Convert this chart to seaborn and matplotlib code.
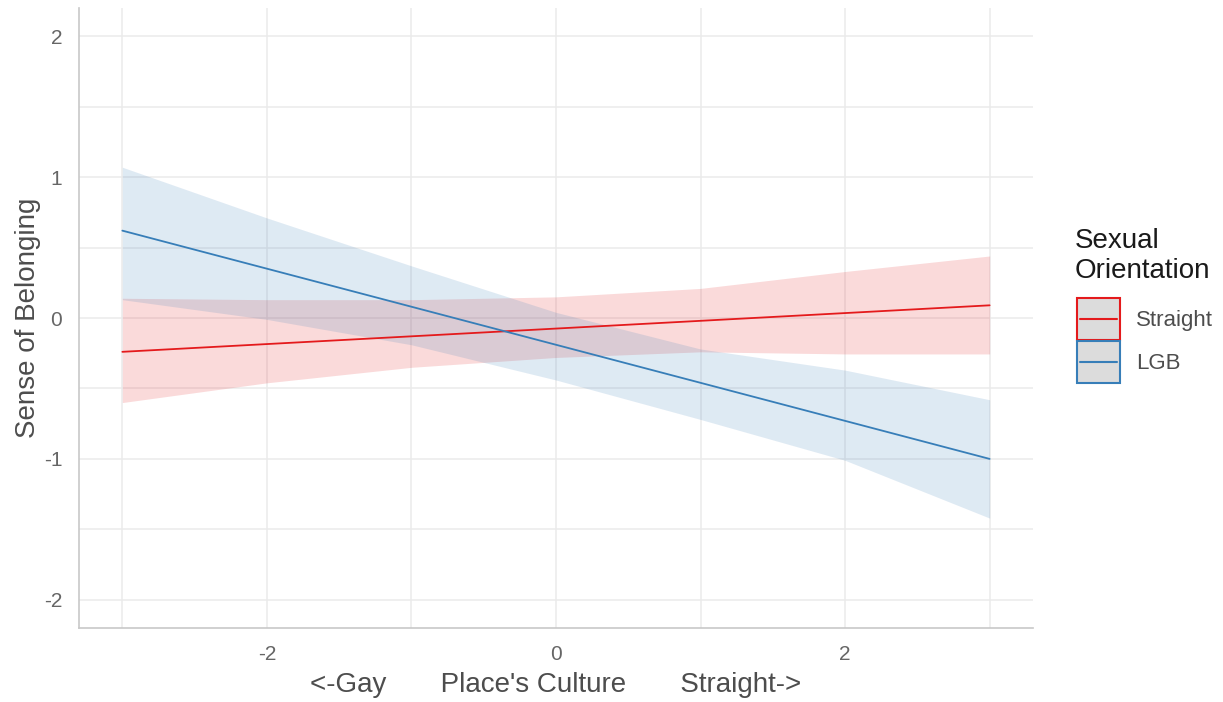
"""Predicted sense of belonging by place's culture, split by sexual orientation."""

import matplotlib
matplotlib.use("Agg")
import matplotlib.pyplot as plt
import numpy as np
import pandas as pd
import seaborn as sns
from matplotlib.lines import Line2D
from matplotlib.patches import Rectangle
from matplotlib.ticker import MultipleLocator

# values
culture = [-3, -2, -1, 0, 1, 2, 3]

straight_fit = [-0.24, -0.185, -0.13, -0.075, -0.02, 0.035, 0.09]
straight_low = [-0.60, -0.46, -0.35, -0.28, -0.24, -0.255, -0.255]
straight_high = [0.14, 0.13, 0.13, 0.15, 0.21, 0.33, 0.44]

lgb_fit = [0.62, 0.35, 0.08, -0.19, -0.46, -0.73, -1.00]
lgb_low = [0.13, -0.01, -0.19, -0.44, -0.72, -1.01, -1.42]
lgb_high = [1.07, 0.71, 0.37, 0.04, -0.22, -0.37, -0.58]

groups = ["Straight", "LGB"]
colors = {"Straight": "#e41a1c", "LGB": "#377eb8"}

df = pd.concat([
    pd.DataFrame({"culture": culture, "fit": straight_fit, "low": straight_low,
                  "high": straight_high, "orientation": "Straight"}),
    pd.DataFrame({"culture": culture, "fit": lgb_fit, "low": lgb_low,
                  "high": lgb_high, "orientation": "LGB"}),
], ignore_index=True)


class KeyHandler:
    """ggplot-style key: grey box with coloured border and a centred line."""

    def legend_artist(self, legend, orig_handle, fontsize, handlebox):
        x0, y0 = -handlebox.xdescent, -handlebox.ydescent
        w, h = handlebox.width, handlebox.height
        col = orig_handle.get_color()
        tr = handlebox.get_transform()
        rect = Rectangle((x0, y0), w, h, facecolor="#dcdcdc", edgecolor=col,
                         linewidth=1.5, transform=tr)
        line = Line2D([x0 + 0.08 * w, x0 + 0.92 * w], [y0 + h / 2] * 2,
                      color=col, linewidth=1.5, transform=tr)
        handlebox.add_artist(rect)
        handlebox.add_artist(line)
        return rect


sns.set_theme(style="white")
plt.rcParams["font.family"] = ["Liberation Sans", "DejaVu Sans"]
plt.rcParams["axes.unicode_minus"] = False

fig = plt.figure(figsize=(12.23, 7.02), dpi=100)
ax = fig.add_axes([79 / 1223, 1 - 628 / 702, (1033 - 79) / 1223, (628 - 8) / 702])

# ribbons first, lines on top
for g in groups:
    sub = df[df["orientation"] == g]
    ax.fill_between(sub["culture"], sub["low"], sub["high"],
                    color=colors[g], alpha=0.16, linewidth=0, zorder=2)

sns.lineplot(data=df, x="culture", y="fit", hue="orientation",
             hue_order=groups, palette=colors, linewidth=1.3,
             legend=False, ax=ax, zorder=3)

ax.set_xlim(-3.3, 3.3)
ax.set_ylim(-2.2, 2.2)
ax.xaxis.set_major_locator(MultipleLocator(2))
ax.xaxis.set_minor_locator(MultipleLocator(1))
ax.yaxis.set_major_locator(MultipleLocator(1))
ax.yaxis.set_minor_locator(MultipleLocator(0.5))
ax.grid(which="both", color="#ebebeb", linewidth=1.1, zorder=0)
ax.set_axisbelow(True)

for side in ["top", "right"]:
    ax.spines[side].set_visible(False)
for side in ["left", "bottom"]:
    ax.spines[side].set_color("#c8c8c8")
    ax.spines[side].set_linewidth(1.2)

ax.tick_params(axis="both", which="both", length=0, labelsize=15,
               labelcolor="#666666")
ax.tick_params(axis="x", pad=12)
ax.tick_params(axis="y", pad=12)

ax.set_xlabel("<-Gay       Place's Culture       Straight->",
              fontsize=20, color="#4d4d4d", labelpad=6)
ax.set_ylabel("Sense of Belonging", fontsize=20, color="#4d4d4d", labelpad=2)

# legend: title as its own text, keys below it
fig.text(1075 / 1223, 1 - 228 / 702, "Sexual\nOrientation", ha="left",
         va="top", fontsize=20, color="#1a1a1a")
handles = [Line2D([], [], color=colors[g]) for g in groups]
leg = fig.legend(handles, groups, handler_map={Line2D: KeyHandler()},
                 loc="upper left", bbox_to_anchor=(1077 / 1223, 1 - 298 / 702),
                 frameon=False, fontsize=16, borderpad=0, borderaxespad=0,
                 handlelength=1.94, handleheight=2.53, labelspacing=0.05,
                 handletextpad=0.72)
for t in leg.get_texts():
    t.set_color("#4d4d4d")

fig.savefig("out.png", dpi=100)
